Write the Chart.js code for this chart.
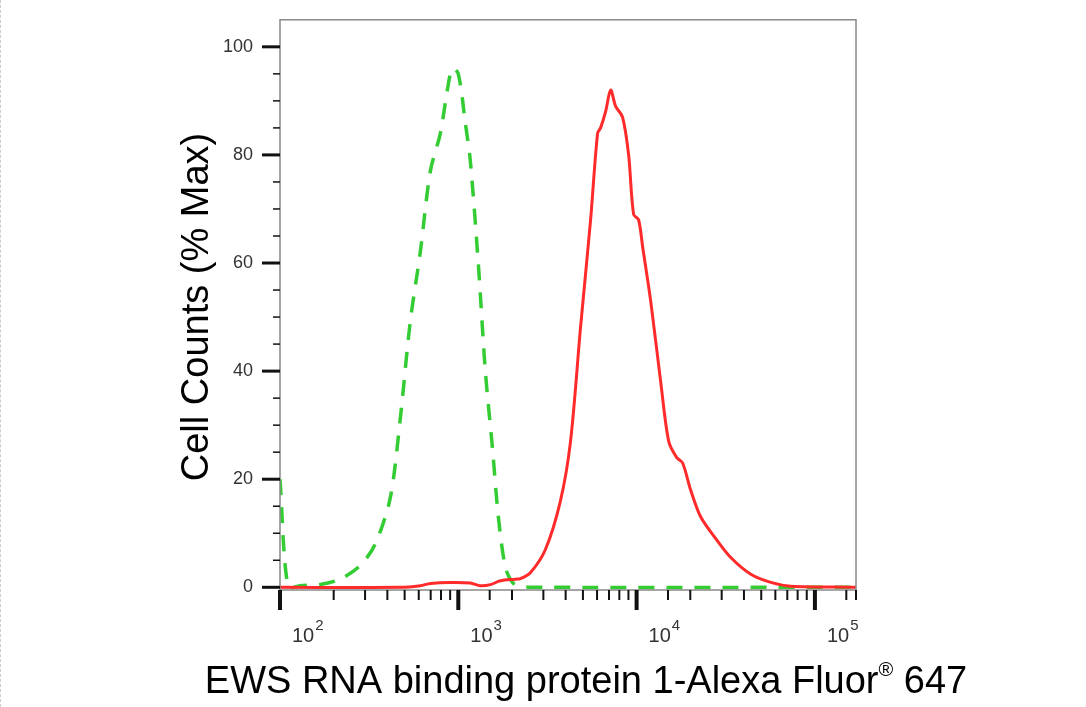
<!DOCTYPE html>
<html><head><meta charset="utf-8">
<script src="https://cdn.jsdelivr.net/npm/chart.js@4"></script>
<style>html,body{margin:0;padding:0;background:#fff}#w{position:relative;width:1086px;height:707px;border-left:1px dashed #ccc;box-sizing:border-box}</style>
</head><body><div id="w"><canvas id="c" width="1085" height="707"></canvas></div>
<script>
const redX=[100,472,612,697,902,1167,1330,1514,1722,2090,2230,2535,3080,3740,4260,4845,5520,6040,6280,6700,7150,7630,8340,9020,9620,10260,10810,11990,13650,15140,16790,18120,20100,22900,27800,33750,43700,56600,73300,170000];
const redY=[0,0,0.3,0.7,0.9,0.8,0.3,0.5,1.2,1.5,1.6,2.7,7,16,27,48,68,84,85,88,92,89,87,80,69,68,63,53,38,27,24,23,18,13,9,5.5,2.4,0.9,0.2,0];
const greenX=[100,111,129,168,217,281,342,415,472,537,612,697,793,868,925,1000,1094,1167,1294,1418,1552,1678,1837,2011,2230,2890,170000];
const greenY=[20,0,0.3,0.5,1.5,4,8,16.5,31,49,62,77,84,92,96,95,86,79,60,40,26,13,3.7,0.9,0.2,0,0];
const yTickLabels=[0,20,40,60,80,100];
const xTickValues=[100,1000,10000,100000];
const xTickExp=['2','3','4','5'];
const xTitle='EWS RNA binding protein 1-Alexa Fluor';
const yTitle='Cell Counts (% Max)';
const pts=(xs,ys)=>xs.map((x,i)=>({x:x,y:ys[i]}));
const frame={id:'frame',afterDraw(ch){const c=ch.ctx,a=ch.chartArea;c.save();
c.strokeStyle='#888';c.lineWidth=1.5;c.strokeRect(a.left,a.top,a.right-a.left,a.bottom-a.top);
c.strokeStyle='#111';
const ys=ch.scales.y;ys.ticks.forEach(t=>{const p=ys.getPixelForValue(t.value);const maj=t.value%20===0;c.lineWidth=maj?3:1.5;c.beginPath();c.moveTo(a.left-(maj?18:7),p);c.lineTo(a.left,p);c.stroke();});
const xs=ch.scales.x;xs.ticks.forEach(t=>{if(t.value>xs.max)return;const p=xs.getPixelForValue(t.value);const maj=xTickValues.includes(t.value);c.lineWidth=maj?4:2;c.beginPath();c.moveTo(p,a.bottom);c.lineTo(p,a.bottom+(maj?20:10));c.stroke();});
c.fillStyle='#333';c.textBaseline='alphabetic';
xTickValues.forEach((v,i)=>{const p=xs.getPixelForValue(v);c.font='20px "Liberation Sans Narrow", "Liberation Sans"';c.textAlign='left';const x0=p+12;c.fillText('10',x0,642);const w=c.measureText('10').width;c.font='15px "Liberation Sans Narrow", "Liberation Sans"';c.fillText(xTickExp[i],x0+w+1,630);});
c.fillStyle='#000';c.font='38px "Liberation Sans"';c.textAlign='left';
const w1=c.measureText(xTitle).width;c.font='20px "Liberation Sans"';const wr=c.measureText('®').width;c.font='38px "Liberation Sans"';const w2=c.measureText(' 647').width;
let sx=585-(w1+wr+w2)/2;c.fillText(xTitle,sx,693);c.font='20px "Liberation Sans"';c.fillText('®',sx+w1,676);c.font='38px "Liberation Sans"';c.fillText(' 647',sx+w1+wr,693);
c.translate(197,307);c.rotate(-Math.PI/2);c.textAlign='center';c.textBaseline='middle';c.font='38px "Liberation Sans"';c.fillText(yTitle,0,0);
c.restore();}};
new Chart(document.getElementById('c'),{type:'line',
data:{datasets:[
{data:pts(redX,redY),borderColor:'#ff2a2a',borderWidth:3,pointRadius:0,tension:0.3,fill:false},
{data:pts(greenX,greenY),borderColor:'#33cc33',borderWidth:3.5,borderDash:[16,12],pointRadius:0,tension:0.3,fill:false}]},
options:{responsive:false,animation:false,events:[],
layout:{padding:{top:16,right:230}},
plugins:{legend:{display:false},tooltip:{enabled:false}},
scales:{
x:{type:'logarithmic',min:100,max:170000,
afterFit(s){s.height=117;},
grid:{display:false},border:{display:false},
ticks:{autoSkip:false,maxRotation:0,callback:()=>''}},
y:{min:-0.5,max:105,
afterFit(s){s.width=279;},
afterBuildTicks(s){const t=[];for(let v=0;v<=100;v+=5)t.push({value:v});s.ticks=t;},
grid:{display:false,tickLength:18,tickColor:'transparent'},border:{display:false},
ticks:{autoSkip:false,padding:9,color:'#333',font:{family:'"Liberation Sans Narrow", "Liberation Sans"',size:18},callback:(v)=>yTickLabels.includes(v)?String(v):''}}}},
plugins:[frame]});
</script></body></html>
